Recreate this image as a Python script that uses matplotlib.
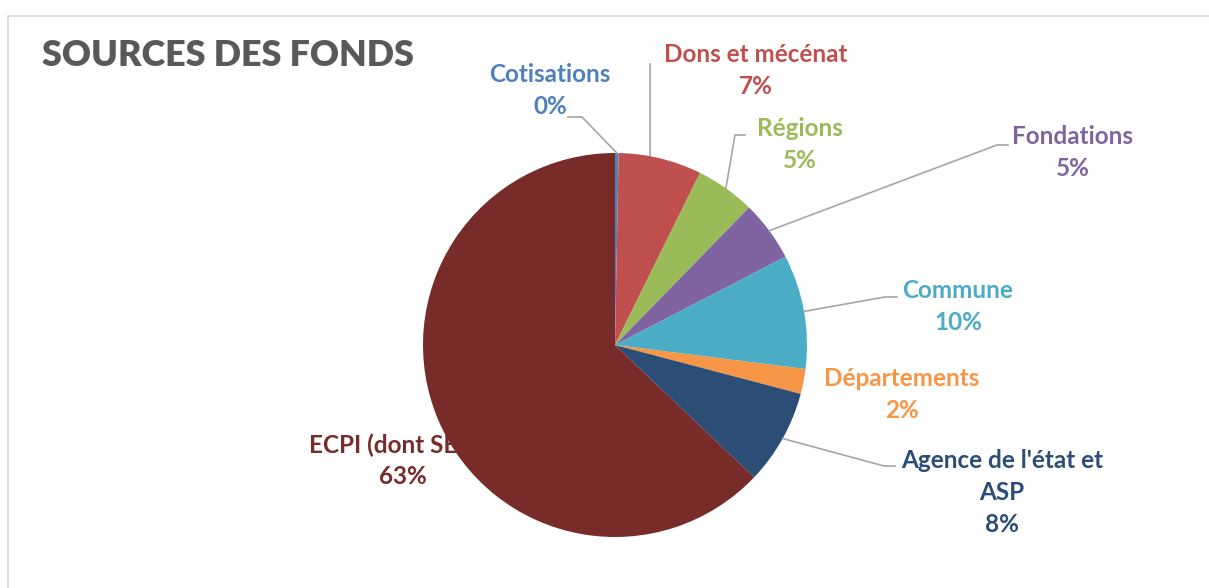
import numpy as np
import matplotlib
matplotlib.use('Agg')
import matplotlib.pyplot as plt
from matplotlib.patches import Rectangle

# Data
categories = ["Cotisations", "Dons et mécénat", "Régions", "Fondations", "Commune",
              "Départements", "Agence de l'état et\nASP", "ECPI (dont SEM)"]
shares = [0.3, 7.0, 5.0, 5.1, 9.6, 2.1, 8.0, 62.9]
colors = ['#4F81BD', '#C0504D', '#9BBB59', '#8064A2', '#4BACC6',
          '#F79646', '#2C4D75', '#772C2A']

W, H = 1209, 588
FONT = 'Lato'

fig = plt.figure(figsize=(W / 100, H / 100), dpi=100)
ax = fig.add_axes([0, 0, 1, 1])


def py(y):
    # pixel row (from top) -> data y
    return H - y


cx, cy, r = 615, 345, 192
wedges, _ = ax.pie(shares, colors=colors, startangle=90, counterclock=False,
                   center=(cx, py(cy)), radius=r, frame=True,
                   wedgeprops=dict(linewidth=0, zorder=3))
ax.set_xlim(0, W)
ax.set_ylim(0, H)
ax.set_aspect('auto')
ax.axis('off')

# chart frame
ax.add_patch(Rectangle((8, -10), W, py(16) + 10, fill=False,
                       edgecolor='#D9D9D9', linewidth=1.2, zorder=0))

ax.text(42, py(56), "SOURCES DES FONDS", fontsize=25.8, fontweight='heavy',
        color='#595959', family=FONT, ha='left', va='center')

# label layout: (text center x, first line y, elbow, line end) in pixels
layout = {
    0: (550, 75, (582, 117), (568, 117)),
    1: (756, 55, (650, 160), (650, 64)),
    2: (800, 128, (735, 135), (745, 135)),
    3: (1073, 137, (997, 145), (1008, 145)),
    4: (958, 290, (885, 297), (897, 297)),
    5: (902, 378, None, None),
    6: (1002, 460, (884, 466), (895, 466)),
    7: (398, 445, None, None),
}

line_h = 32
for i, w in enumerate(wedges):
    tx, ty, elbow, end = layout[i]
    lines = categories[i].split('\n') + [f"{round(shares[i]):.0f}%"]
    for k, s in enumerate(lines):
        xk = tx + 5 if (i == 7 and k == 1) else tx
        ax.text(xk, py(ty + k * line_h), s, fontsize=17.5, fontweight='bold',
                color=colors[i], family=FONT, ha='center', va='center',
                zorder=1 if i == 7 else 5)
    if elbow is None:
        continue
    mid = np.deg2rad((w.theta1 + w.theta2) / 2)
    ax_x = cx + r * np.cos(mid)
    ax_y = py(cy) + r * np.sin(mid)
    if i == 1:
        ax.plot([elbow[0], end[0]], [ax_y - 3, py(end[1])],
                color='#A6A6A6', linewidth=1.2, zorder=2)
        continue
    ax.plot([ax_x, elbow[0], end[0]], [ax_y, py(elbow[1]), py(end[1])],
            color='#A6A6A6', linewidth=1.2, zorder=4)

fig.savefig('out.png', dpi=100)
